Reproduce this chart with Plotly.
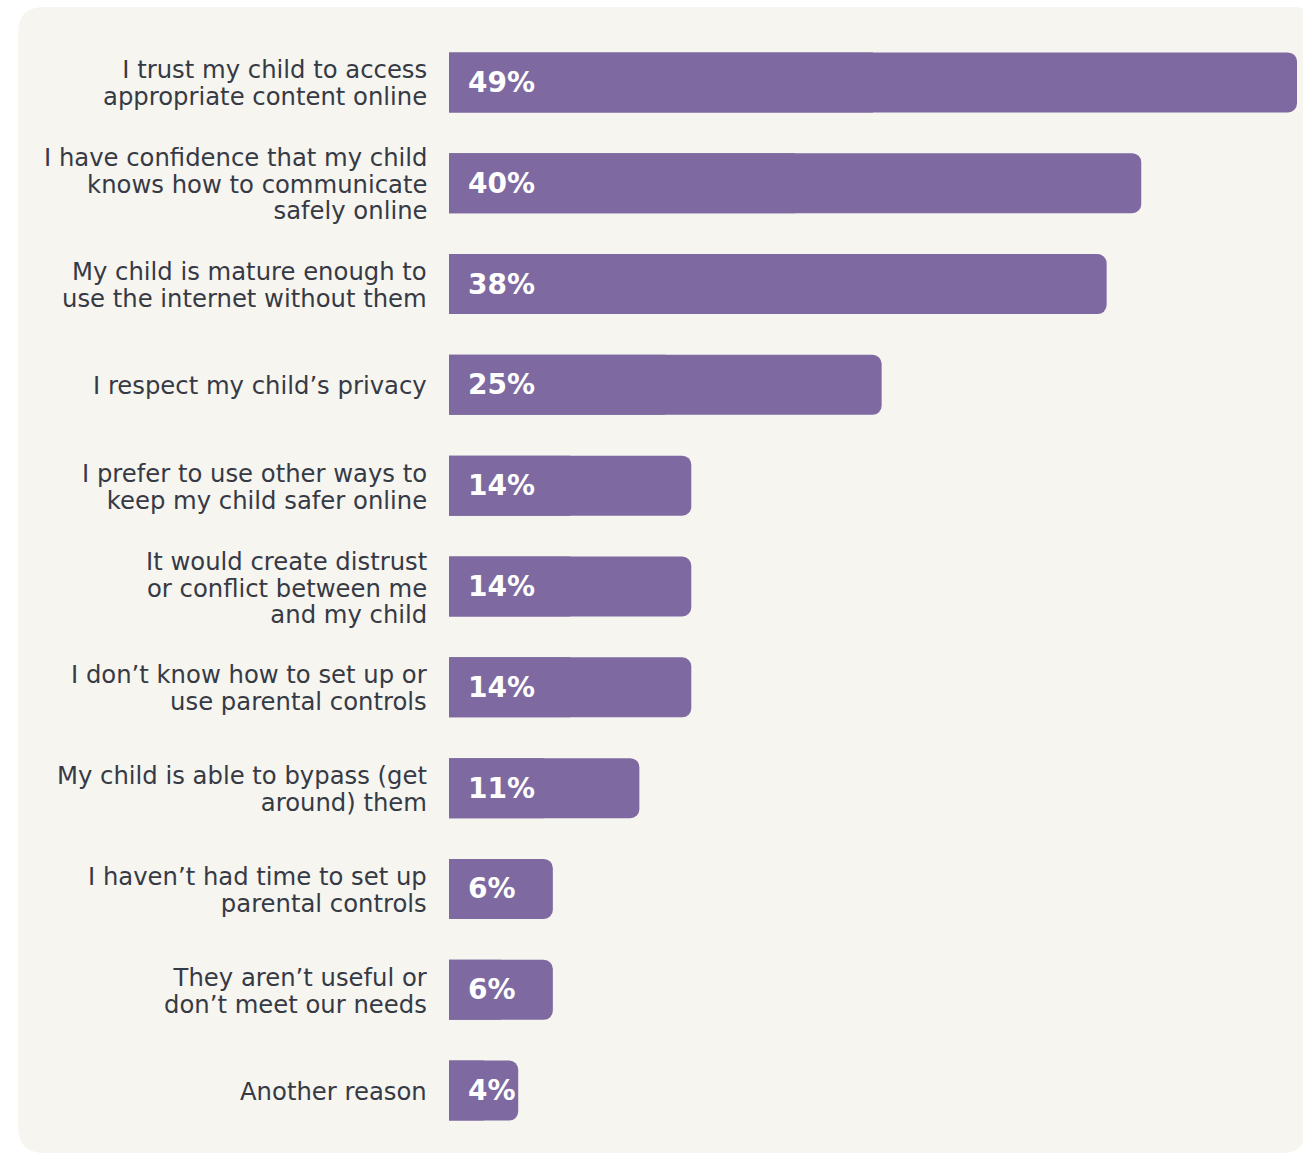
import plotly.graph_objects as go

# Reasons parents give for not using parental controls (share of respondents, %)
reasons = [
    "I trust my child to access<br>appropriate content online",
    "I have confidence that my child<br>knows how to communicate<br>safely online",
    "My child is mature enough to<br>use the internet without them",
    "I respect my child\u2019s privacy",
    "I prefer to use other ways to<br>keep my child safer online",
    "It would create distrust<br>or conflict between me<br>and my child",
    "I don\u2019t know how to set up or<br>use parental controls",
    "My child is able to bypass (get<br>around) them",
    "I haven\u2019t had time to set up<br>parental controls",
    "They aren\u2019t useful or<br>don\u2019t meet our needs",
    "Another reason",
]
shares = [49, 40, 38, 25, 14, 14, 14, 11, 6, 6, 4]
value_labels = [f"{v}%" for v in shares]

BAR = "#7e6aa1"
PANEL = "#f6f5f0"
INK = "#363a45"

W, H = 1303, 1155
M_L, M_R, M_T, M_B = 449, 6, 32, 14

fig = go.Figure()

# rounded-end bars
fig.add_trace(go.Bar(
    y=reasons, x=shares, orientation="h",
    marker=dict(color=BAR, cornerradius=9, line=dict(width=0)),
    hoverinfo="skip", showlegend=False,
))
# square off the left ends of the bars
fig.add_trace(go.Bar(
    y=reasons, x=[v / 2 for v in shares], orientation="h",
    marker=dict(color=BAR, cornerradius=0, line=dict(width=0)),
    hoverinfo="skip", showlegend=False,
))


def tight_lines(label, size=24.3):
    # line pitch follows the annotation's base font; glyphs use a larger size
    return "<br>".join(f'<span style="font-size:{size}px">{ln}</span>'
                       for ln in label.split("<br>"))


annotations = []
for label, val_text in zip(reasons, value_labels):
    annotations.append(dict(
        x=0, y=label, xref="x", yref="y",
        text=tight_lines(label), showarrow=False, align="right",
        xanchor="right", yanchor="middle", xshift=-20, yshift=-1,
        font=dict(family="DejaVu Sans", size=20.4, color=INK),
    ))
    annotations.append(dict(
        x=0, y=label, xref="x", yref="y",
        text=f"<b>{val_text}</b>", showarrow=False,
        xanchor="left", yanchor="middle", xshift=17, yshift=0,
        font=dict(family="DejaVu Sans", size=28, color="#ffffff"),
    ))

# light rounded panel behind the chart (pixel offsets from the plot's top-left corner)
left, right = 18 - M_L, W + 4 - M_L
top, bottom = M_T - 7, -(1153 - M_T)
r = 26
panel_path = (
    f"M {left},{bottom + r} "
    f"L {left},{top - r} Q {left},{top} {left + r},{top} "
    f"L {right - 12},{top} Q {right},{top} {right},{top - 12} "
    f"L {right},{bottom + r} Q {right},{bottom} {right - r},{bottom} "
    f"L {left + r},{bottom} Q {left},{bottom} {left},{bottom + r} Z"
)

fig.update_layout(
    width=W, height=H,
    margin=dict(l=M_L, r=M_R, t=M_T, b=M_B, pad=0),
    paper_bgcolor="#ffffff",
    plot_bgcolor="rgba(0,0,0,0)",
    barmode="overlay",
    bargap=0.405,
    xaxis=dict(range=[0, 49], visible=False, fixedrange=True),
    yaxis=dict(categoryorder="array", categoryarray=reasons, autorange="reversed",
               visible=False, fixedrange=True),
    annotations=annotations,
    shapes=[dict(
        type="path", path=panel_path, layer="below",
        xref="paper", yref="paper", xsizemode="pixel", ysizemode="pixel",
        xanchor=0, yanchor=1,
        fillcolor=PANEL, line=dict(width=0),
    )],
)

fig.write_html("out.html", config={"displayModeBar": False})
